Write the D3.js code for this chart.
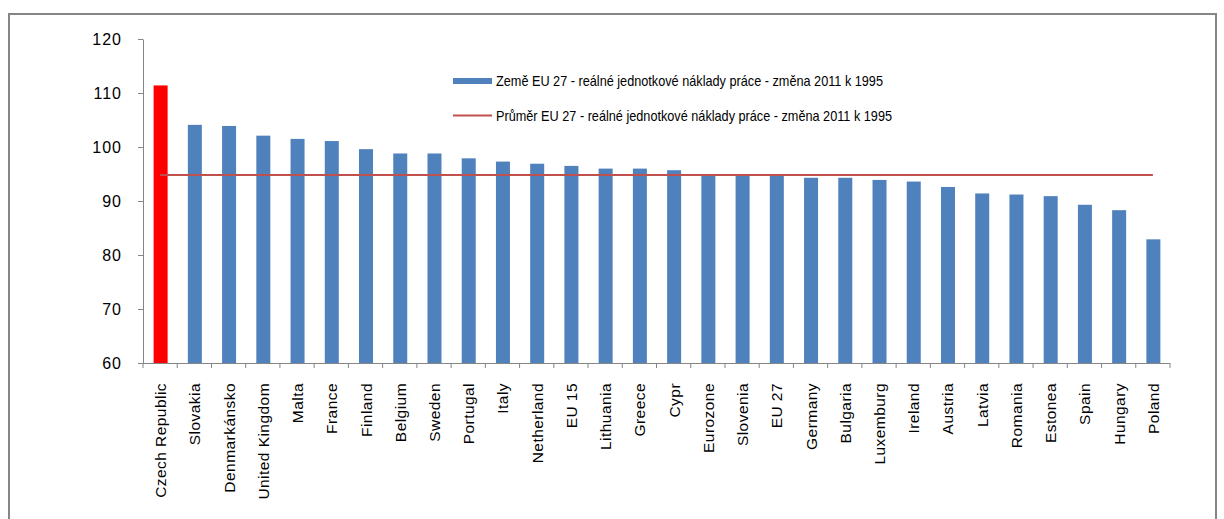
<!DOCTYPE html>
<html><head><meta charset="utf-8">
<script src="https://cdn.jsdelivr.net/npm/d3@7"></script>
<style>body{margin:0;background:#fff}svg{display:block}</style>
</head><body>
<script>
const categories = ["Czech Republic","Slovakia","Denmarkánsko","United Kingdom","Malta","France","Finland","Belgium","Sweden","Portugal","Italy","Netherland","EU 15","Lithuania","Greece","Cypr","Eurozone","Slovenia","EU 27","Germany","Bulgaria","Luxemburg","Ireland","Austria","Latvia","Romania","Estonea","Spain","Hungary","Poland"];
const values = [111.4,104.1,103.9,102.1,101.5,101.1,99.6,98.8,98.8,97.9,97.3,96.9,96.5,96.0,96.0,95.7,94.8,94.8,94.8,94.3,94.3,93.9,93.6,92.6,91.4,91.2,90.9,89.3,88.3,82.9];
const average = 94.8;
const yTicks = [60,70,80,90,100,110,120];
const legendLabels = ["Země EU 27 - reálné jednotkové náklady práce -  změna 2011  k 1995","Průměr EU 27 - reálné jednotkové náklady práce - změna 2011  k 1995"];

(function(){
const W=1224,H=519;
const svg=d3.select("body").append("svg").attr("width",W).attr("height",H);
svg.append("rect").attr("x",9).attr("y",14).attr("width",1207).attr("height",520)
  .attr("fill","#fff").attr("stroke","#868686").attr("stroke-width",2);

const pL=143,pR=1170,pT=39,pB=363;
const xb=d3.scaleBand().domain(categories).range([pL,pR]);
const y=d3.scaleLinear().domain([60,120]).range([pB,pT]);
const font="'Liberation Sans', Arial, sans-serif";

// bars
svg.selectAll("rect.bar").data(values).enter().append("rect").attr("class","bar")
  .attr("x",(d,i)=>xb(categories[i])+xb.bandwidth()/2-6.5)
  .attr("width",14)
  .attr("y",d=>y(d)).attr("height",d=>y(60)-y(d))
  .attr("fill",(d,i)=>i===0?"#FF0000":"#4F81BD");

// y axis
const ya=svg.append("g").attr("transform",`translate(${pL},0)`)
  .call(d3.axisLeft(y).tickValues(yTicks).tickSize(5).tickPadding(16).tickSizeOuter(0));
ya.select(".domain").attr("stroke","#868686");
ya.selectAll(".tick line").attr("stroke","#868686");
ya.selectAll(".tick text").attr("font-family",font).attr("font-size",16).attr("letter-spacing",1).attr("fill","#000");

// x axis
const xa=svg.append("g").attr("transform",`translate(0,${pB})`);
xa.append("line").attr("x1",pL).attr("x2",pR).attr("y1",0.5).attr("y2",0.5).attr("stroke","#868686");
const bounds=categories.map(c=>xb(c)).concat([pR]);
xa.selectAll("line.t").data(bounds).enter().append("line").attr("class","t")
  .attr("x1",d=>d).attr("x2",d=>d).attr("y1",0).attr("y2",5).attr("stroke","#868686");
xa.selectAll("text").data(categories).enter().append("text")
  .attr("transform",c=>`translate(${xb(c)+xb.bandwidth()/2+6},20) rotate(-90)`)
  .attr("text-anchor","end").attr("font-family",font).attr("font-size",15.5).attr("letter-spacing",0.45).attr("fill","#000")
  .text(c=>c);

// average line
svg.append("line").attr("x1",xb(categories[0])+xb.bandwidth()/2).attr("x2",xb(categories[categories.length-1])+xb.bandwidth()/2)
  .attr("y1",y(average)).attr("y2",y(average)).attr("stroke","#C0504D").attr("stroke-width",2);

// legend
const lg=svg.append("g");
lg.append("rect").attr("x",453).attr("y",78).attr("width",39).attr("height",6).attr("fill","#4F81BD");
lg.append("line").attr("x1",453).attr("x2",492).attr("y1",115.5).attr("y2",115.5).attr("stroke","#C0504D").attr("stroke-width",2);
lg.selectAll("text").data(legendLabels).enter().append("text")
  .attr("x",496).attr("y",(d,i)=>86+i*34.5)
  .attr("font-family",font).attr("font-size",14.5).attr("fill","#000")
  .attr("textLength",(d,i)=>i===0?387:396).attr("lengthAdjust","spacingAndGlyphs")
  .text(d=>d);
})();
</script>
</body></html>
